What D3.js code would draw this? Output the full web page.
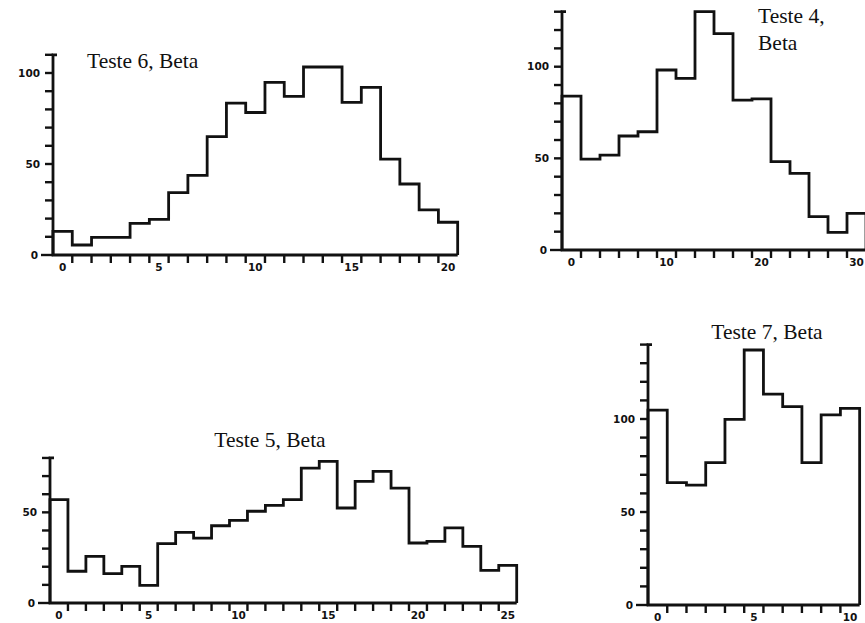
<!DOCTYPE html>
<html>
<head>
<meta charset="utf-8">
<script src="https://cdn.jsdelivr.net/npm/d3@7"></script>
<style>
    html, body { margin: 0; padding: 0; background: #fff; }
    svg { display: block; }
    .title { font-family: "Liberation Serif", "Times New Roman", serif; fill: #111; }
    .lab { font-family: "DejaVu Sans", "Liberation Sans", sans-serif; font-weight: bold; fill: #111; font-size: 10.5px; }
</style>
</head>
<body>
<div id="chart"></div>
<script>
// counts (one value per bin)
let teste6Values = [13, 5.5, 9.7, 9.7, 17.4, 19.6, 34.3, 43.7, 65, 83.5, 78.3, 94.9, 87.2, 103.3, 103.3, 83.9, 92.1, 52.7, 39, 24.8, 18];
let teste4Values = [84, 49.6, 51.8, 62.2, 64.5, 98.2, 93.6, 130, 118, 81.8, 82.4, 48.2, 41.8, 18.2, 9.6, 20];
let teste5Values = [57, 17.5, 25.7, 16.2, 20.2, 9.7, 32.7, 39, 35.8, 42.6, 45.6, 50.6, 53.9, 57, 74.4, 78.1, 52.4, 67.1, 72.6, 63.4, 33.1, 34, 41.4, 31.2, 18, 20.8];
let teste7Values = [104.8, 65.8, 64.5, 76.5, 99.8, 137.1, 113.4, 106.6, 76.5, 102.2, 105.7];

let yLabels = [0, 50, 100];
let teste6XLabels = [0, 5, 10, 15, 20];
let teste4XLabels = [0, 10, 20, 30];   // each bin covers 2 units
let teste5XLabels = [0, 5, 10, 15, 20, 25];
let teste7XLabels = [0, 5, 10];

let ink = "#111";

let svg = d3.select("#chart").append("svg")
    .attr("width", 865)
    .attr("height", 623);

let drawPanel = function(p) {
    let n = p.values.length;
    let x = d3.scaleLinear().domain([0, n]).range([p.left, p.left + n * p.binWidth]);
    let y = d3.scaleLinear().domain([0, p.yMax]).range([p.base, p.base - p.yMax * p.unit]);
    let g = svg.append("g");

    // x ticks on the bin edges
    g.selectAll("line.xt")
        .data(d3.range(1, n))
        .join("line")
        .attr("class", "xt")
        .attr("x1", d => x(d)).attr("x2", d => x(d))
        .attr("y1", p.base).attr("y2", p.base + 8)
        .attr("stroke", ink).attr("stroke-width", 2.4);

    // y ticks every 10
    let yTicks = d3.range(0, p.yMax + 1, 10);
    g.selectAll("line.yt")
        .data(yTicks)
        .join("line")
        .attr("class", "yt")
        .attr("x1", d => p.left - (d === 0 ? 12 : 8)).attr("x2", p.left)
        .attr("y1", d => y(d)).attr("y2", d => y(d))
        .attr("stroke", ink).attr("stroke-width", 2.4);

    // axis lines, y axis with a small hook at its top
    g.append("path")
        .attr("d", "M" + (p.left + 4) + "," + y(p.yMax) + "H" + p.left + "V" + p.base + "H" + x(n))
        .attr("fill", "none")
        .attr("stroke", ink)
        .attr("stroke-width", 2.8);

    // labels
    g.selectAll("text.xl")
        .data(p.xLabels)
        .join("text")
        .attr("class", "lab xl")
        .attr("x", d => x(d / p.binSize + 0.5))
        .attr("y", p.base + 16)
        .attr("text-anchor", "middle")
        .text(d => d);

    g.selectAll("text.yl")
        .data(yLabels.filter(d => d <= p.yMax))
        .join("text")
        .attr("class", "lab yl")
        .attr("x", d => p.left - (d === 0 ? 15 : 13))
        .attr("y", d => y(d))
        .attr("dy", "0.35em")
        .attr("text-anchor", "end")
        .text(d => d);

    // step outline of the histogram
    let pts = [[0, 0]];
    p.values.forEach((v, i) => pts.push([i, v]));
    pts.push([n, p.values[n - 1]]);
    pts.push([n, 0]);
    let line = d3.line()
        .x(d => x(d[0]))
        .y(d => y(d[1]))
        .curve(d3.curveStepAfter);
    g.append("path")
        .attr("d", line(pts))
        .attr("fill", "none")
        .attr("stroke", ink)
        .attr("stroke-width", 2.8)
        .attr("stroke-linejoin", "miter");

    let t = g.append("text")
        .attr("class", "title")
        .attr("x", p.titleX)
        .attr("y", p.titleY)
        .attr("font-size", 21.5)
        .attr("text-anchor", p.anchor || "start");
    p.title.forEach((s, i) => {
        t.append("tspan").attr("x", p.titleX).attr("dy", i ? 27 : 0).text(s);
    });
}

drawPanel({ values: teste6Values, xLabels: teste6XLabels, binSize: 1, left: 53, binWidth: 19.27,
    base: 255, unit: 1.82, yMax: 110, title: ["Teste 6, Beta"], titleX: 87, titleY: 68 });
drawPanel({ values: teste4Values, xLabels: teste4XLabels, binSize: 2, left: 562, binWidth: 19,
    base: 250, unit: 1.833, yMax: 130, title: ["Teste 4,", "Beta"], titleX: 758, titleY: 23 });
drawPanel({ values: teste5Values, xLabels: teste5XLabels, binSize: 1, left: 50, binWidth: 17.95,
    base: 603, unit: 1.813, yMax: 80, title: ["Teste 5, Beta"], titleX: 270, titleY: 447, anchor: "middle" });
drawPanel({ values: teste7Values, xLabels: teste7XLabels, binSize: 1, left: 648, binWidth: 19.24,
    base: 605, unit: 1.86, yMax: 140, title: ["Teste 7, Beta"], titleX: 767, titleY: 339, anchor: "middle" });
</script>
</body>
</html>
